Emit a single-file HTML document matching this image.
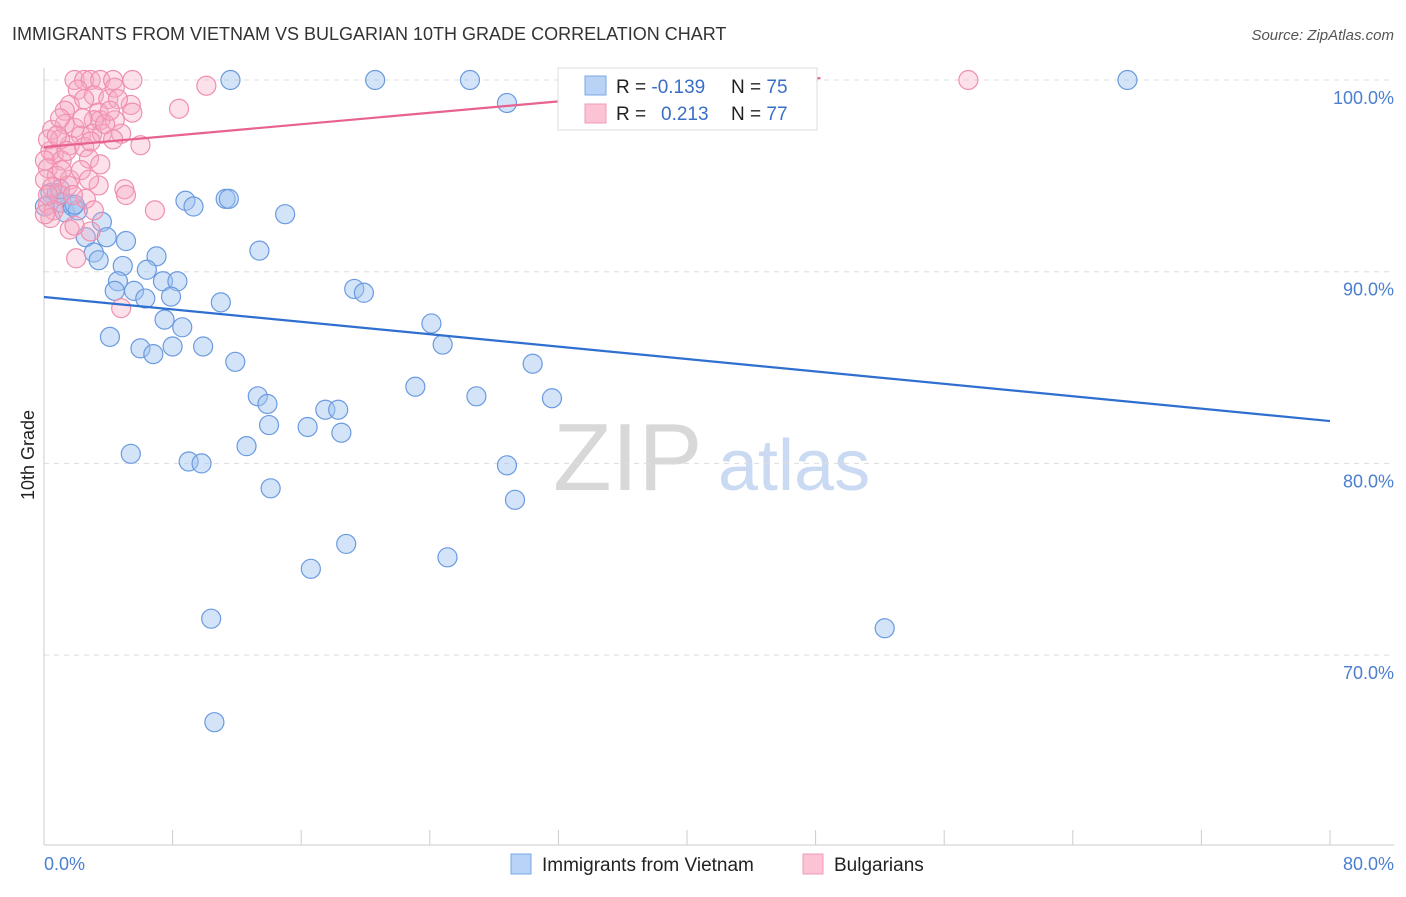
<!DOCTYPE html>
<html><head><meta charset="utf-8"><style>
body{margin:0;background:#fff;font-family:"Liberation Sans",sans-serif}
svg text{font-family:"Liberation Sans",sans-serif}
</style></head><body>
<svg id="c" width="1406" height="892">
<text x="12" y="40" font-size="18" fill="#333">IMMIGRANTS FROM VIETNAM VS BULGARIAN 10TH GRADE CORRELATION CHART</text>
<text x="1394" y="40" font-size="15" fill="#555" font-style="italic" text-anchor="end">Source: ZipAtlas.com</text>
<g><text x="553" y="490" font-size="96" fill="#d8d8d8" font-family="Liberation Serif">ZIP</text><text x="718" y="490" font-size="72" fill="#c9daf2">atlas</text></g>
<g id="grid"></g><g id="axes"></g><g id="pts"></g><g id="lines"></g>
<text transform="translate(34,455) rotate(-90)" font-size="18" fill="#222" text-anchor="middle">10th Grade</text>
<text x="44" y="870" font-size="18" fill="#4a7fd0">0.0%</text>
<text x="1394" y="870" font-size="18" fill="#4a7fd0" text-anchor="end">80.0%</text>
<g>
<rect x="558" y="68" width="259" height="62" fill="#fff" stroke="#ddd"/>
<rect x="585" y="76" width="21" height="19" fill="#b8d3f5" stroke="#7aa7e3"/>
<rect x="585" y="104" width="21" height="19" fill="#fbc3d4" stroke="#f19bb6"/>
<text x="616" y="93" font-size="19" fill="#222">R = <tspan fill="#3a6fc7">-0.139</tspan><tspan x="731">N = </tspan><tspan fill="#3a6fc7">75</tspan></text>
<text x="616" y="120" font-size="19" fill="#222">R = <tspan x="661" fill="#3a6fc7">0.213</tspan><tspan x="731">N = </tspan><tspan fill="#3a6fc7">77</tspan></text>
</g>
<g>
<rect x="511" y="854" width="20" height="20" fill="#b8d3f5" stroke="#7aa7e3"/>
<text x="542" y="871" font-size="19" fill="#222">Immigrants from Vietnam</text>
<rect x="803" y="854" width="20" height="20" fill="#fbc3d4" stroke="#f19bb6"/>
<text x="834" y="871" font-size="19" fill="#222">Bulgarians</text>
</g>
</svg>
<script>
const yTicks=[100,90,80,70];
const yTickLabels=["100.0%","90.0%","80.0%","70.0%"];
const xTicks=[0,8,16,24,32,40,48,56,64,72,80];
const blueX=[11.6,20.6,26.5,67.4,43.1,28.8,8.8,9.3,11.3,11.5,15.0,0.4,0.8,1.1,1.3,1.8,2.1,3.6,2.6,3.9,5.1,3.1,3.4,7.0,13.4,4.9,6.4,4.6,4.4,5.6,7.4,8.3,6.3,7.9,11.0,19.3,19.9,7.5,8.6,24.1,4.1,6.0,6.8,8.0,9.9,24.8,11.9,30.4,23.1,13.3,13.9,26.9,31.6,17.5,18.3,14.0,16.4,18.5,12.6,5.4,9.0,9.8,28.8,14.1,29.3,18.8,25.1,16.6,10.4,52.3,10.6,1.9,0.06,1.0];
const blueY=[100,100,100,100,100,98.8,93.7,93.4,93.8,93.8,93.0,94.1,94.1,93.6,93.1,93.4,93.2,92.6,91.8,91.8,91.6,91.0,90.6,90.8,91.1,90.3,90.1,89.5,89.0,89.0,89.5,89.5,88.6,88.7,88.4,89.1,88.9,87.5,87.1,87.3,86.6,86.0,85.7,86.1,86.1,86.2,85.3,85.2,84.0,83.5,83.1,83.5,83.4,82.8,82.8,82.0,81.9,81.6,80.9,80.5,80.1,80.0,79.9,78.7,78.1,75.8,75.1,74.5,71.9,71.4,66.5,93.5,93.4,94.3];
const pinkX=[1.9,2.5,2.9,3.5,4.3,5.5,57.5,10.1,2.1,3.1,4.0,1.6,1.3,5.4,8.4,5.5,3.4,3.5,3.1,4.4,1.3,1.9,0.5,2.3,3.0,4.8,3.6,6.0,1.6,1.0,2.5,0.4,0.6,0.06,1.1,2.8,0.25,0.8,1.6,0.06,3.4,5.0,5.1,1.0,2.6,6.9,0.25,0.6,0.4,1.6,2.9,2.0,4.8,4.4,1.0,2.9,2.3,1.5,0.25,3.8,4.6,2.5,1.1,0.5,3.1,1.9,0.06,1.4,2.4,4.3,0.8,2.8,3.5,1.8,0.25,4.1];
const pinkY=[100,100,100,100,100,100,100,99.7,99.5,99.2,99.0,98.7,98.4,98.7,98.5,98.3,98.3,97.9,97.9,97.9,97.7,97.5,97.4,97.1,97.2,97.2,97.2,96.6,96.6,96.9,96.5,96.3,96.1,95.8,95.8,95.9,95.4,95.0,94.8,94.8,94.5,94.3,94.0,94.0,93.8,93.2,93.5,93.2,92.8,92.2,92.1,90.7,88.1,99.6,98.0,96.8,95.3,94.5,96.9,97.7,99.0,99.0,95.3,94.4,93.2,92.4,93.0,96.3,98.0,96.9,97.1,94.8,95.6,94.0,94.0,98.4];
const blueLine=[[0,88.68],[80,82.21]];
const pinkLine=[[0,96.5],[48.3,100.1]];
const X=v=>44+v/80*1286, Y=v=>80+(100-v)*19.17;
const NS="http://www.w3.org/2000/svg";
function mk(tag,attrs,parent){const e=document.createElementNS(NS,tag);for(const k in attrs)e.setAttribute(k,attrs[k]);document.getElementById(parent).appendChild(e);return e;}
yTicks.forEach((t,i)=>{
 const l=mk('line',{x1:44,x2:1394,y1:Y(t),y2:Y(t),stroke:'#ddd','stroke-dasharray':'5,5'},'grid');
 
 
 const tx=mk('text',{x:1394,y:Y(t)+24,'font-size':18,fill:'#4a7fd0','text-anchor':'end'},'grid');
 tx.textContent=yTickLabels[i];
 
 
});
const ya=mk('line',{x1:44,x2:44,y1:68,y2:845,stroke:'#ccc'},'axes');


const xa=mk('line',{x1:44,x2:1394,y1:845,y2:845,stroke:'#ccc'},'axes');


xTicks.forEach(t=>{const l=mk('line',{x1:X(t),x2:X(t),y1:830,y2:845,stroke:'#ccc'},'axes');
 
 });
blueX.forEach((v,i)=>{const c=mk('circle',{cx:X(v),cy:Y(blueY[i]),r:9.5,fill:'rgba(160,196,240,0.45)',stroke:'#6b9ae0','stroke-width':1.2},'pts');
 
 });
pinkX.forEach((v,i)=>{const c=mk('circle',{cx:X(v),cy:Y(pinkY[i]),r:9.5,fill:'rgba(247,168,196,0.35)',stroke:'#ef8fae','stroke-width':1.2},'pts');
 
 });
const bl=mk('line',{x1:X(blueLine[0][0]),y1:Y(blueLine[0][1]),x2:X(blueLine[1][0]),y2:Y(blueLine[1][1]),stroke:'#2f6fd0','stroke-width':2.2},'lines');


const pl=mk('line',{x1:X(pinkLine[0][0]),y1:Y(pinkLine[0][1]),x2:X(pinkLine[1][0]),y2:Y(pinkLine[1][1]),stroke:'#e8628f','stroke-width':2.2},'lines');


</script>
</body></html>
